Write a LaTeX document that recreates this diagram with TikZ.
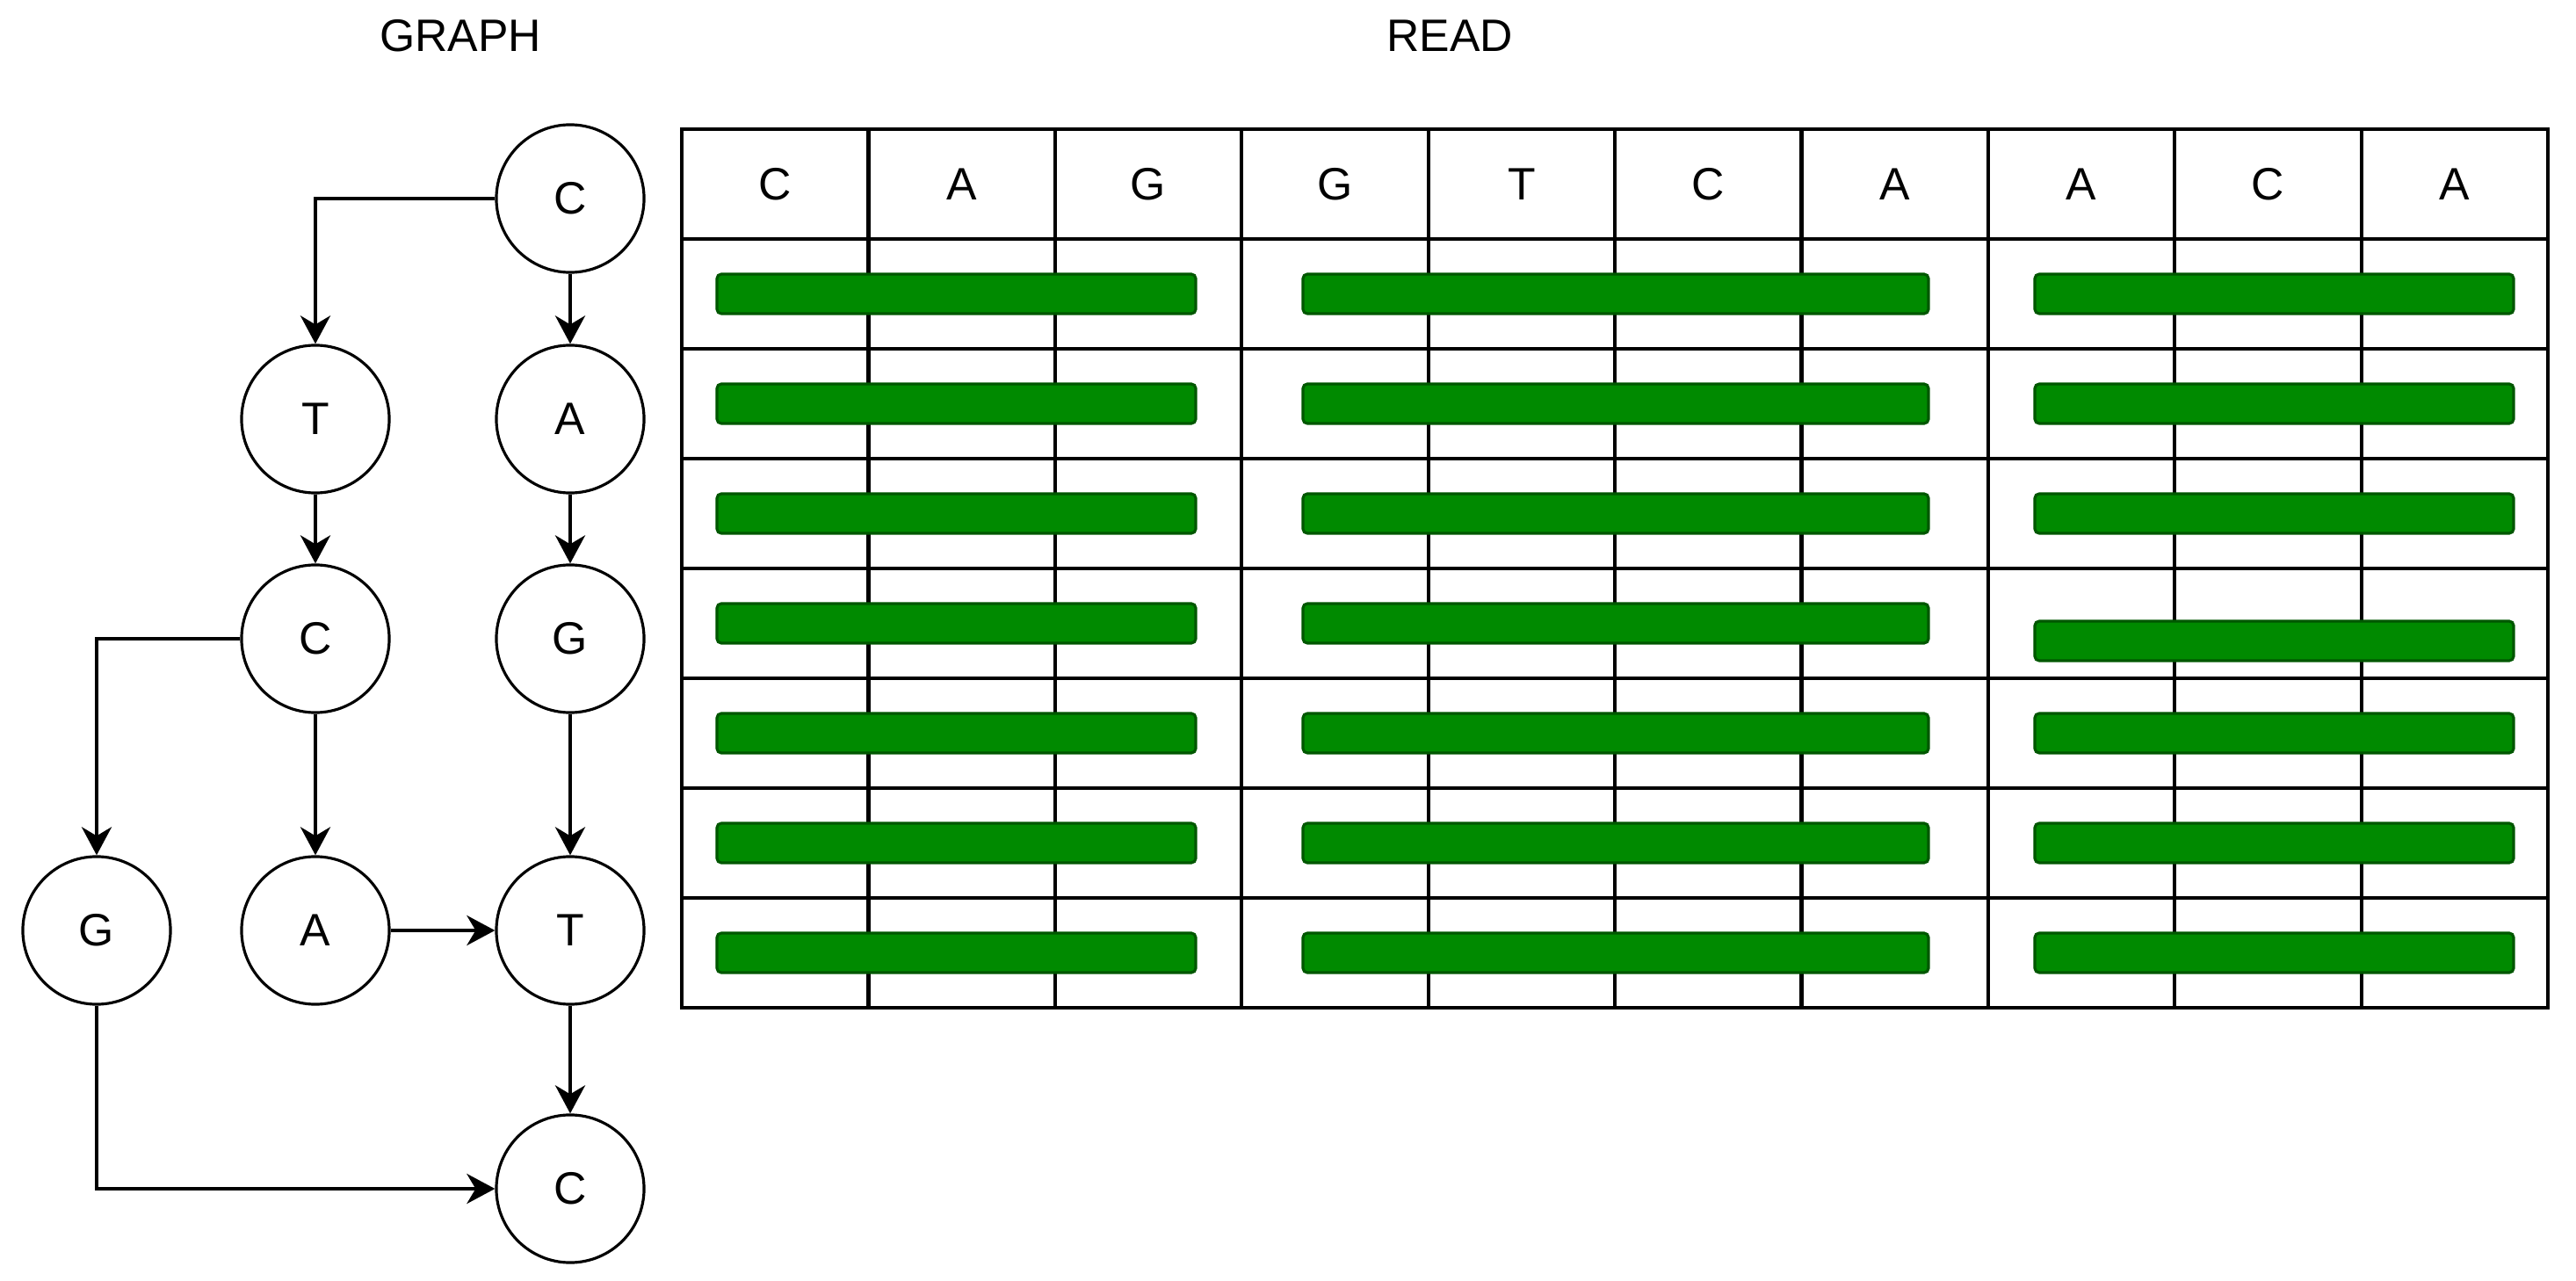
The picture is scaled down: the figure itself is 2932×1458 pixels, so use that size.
\documentclass[tikz,border=0pt]{standalone}
\usepackage{fontspec}
\setmainfont{Liberation Sans}
\usetikzlibrary{arrows.meta}
\definecolor{barfill}{HTML}{008A00}
\definecolor{barline}{HTML}{005700}
\newcommand\dnafont{\fontsize{14.7}{17}\selectfont}
\begin{document}
\begin{tikzpicture}[x=0.01cm,y=-0.01cm,
  vert/.style={circle,draw=black,line width=0.9pt,minimum size=1.68cm,inner sep=0pt,font=\dnafont},
  conn/.style={line width=1.2pt,-{Stealth[length=0.32cm,width=0.34cm,inset=0.1cm]}},
  gridline/.style={line width=1.2pt,line cap=rect},
  bar/.style={fill=barfill,draw=barline,line width=0.9pt,rounded corners=0.05cm},
  lbl/.style={font=\dnafont,inner sep=0pt}]
\useasboundingbox (0,0) rectangle (2932,1458);

% titles
\node[lbl] (graph) at (524,41) {GRAPH};
\node[lbl] (read) at (1650,41) {READ};

% graph vertices
\node[vert] (c1) at (649,226) {C};
\node[vert] (t1) at (359,477) {T};
\node[vert] (a1) at (649,477) {A};
\node[vert] (c2) at (359,727) {C};
\node[vert] (g1) at (649,727) {G};
\node[vert] (g2) at (110,1059) {G};
\node[vert] (a2) at (359,1059) {A};
\node[vert] (t2) at (649,1059) {T};
\node[vert] (c3) at (649,1353) {C};

% connectors
\draw[conn] (c1.west) -| (t1.north);
\draw[conn] (c1) -- (a1);
\draw[conn] (t1) -- (c2);
\draw[conn] (a1) -- (g1);
\draw[conn] (c2.west) -| (g2.north);
\draw[conn] (c2) -- (a2);
\draw[conn] (g1) -- (t2);
\draw[conn] (a2) -- (t2);
\draw[conn] (t2) -- (c3);
\draw[conn] (g2.south) |- (c3.west);

% table grid
\foreach \i in {0,...,10} \draw[gridline] ({776+\i*212.4},147) -- ({776+\i*212.4},1147);
\foreach \j in {0,...,8} \draw[gridline] (776,{147+\j*125}) -- (2900,{147+\j*125});

% header letters
\foreach \l [count=\i from 0] in {C,A,G,G,T,C,A,A,C,A}
  \node[lbl] (h\i) at ({776+\i*212.4+106.2},210) {\l};

% read bars
\foreach \r in {1,...,7}{
  \pgfmathsetmacro\yc{209.5+125*\r}
  \draw[bar] (816,{\yc-22.5}) rectangle (1361,{\yc+22.5});
  \draw[bar] (1483,{\yc-22.5}) rectangle (2195,{\yc+22.5});
  \ifnum\r=4
    \draw[bar] (2316,{\yc-2.5}) rectangle (2861,{\yc+42.5});
  \else
    \draw[bar] (2316,{\yc-22.5}) rectangle (2861,{\yc+22.5});
  \fi
}
\end{tikzpicture}
\end{document}
